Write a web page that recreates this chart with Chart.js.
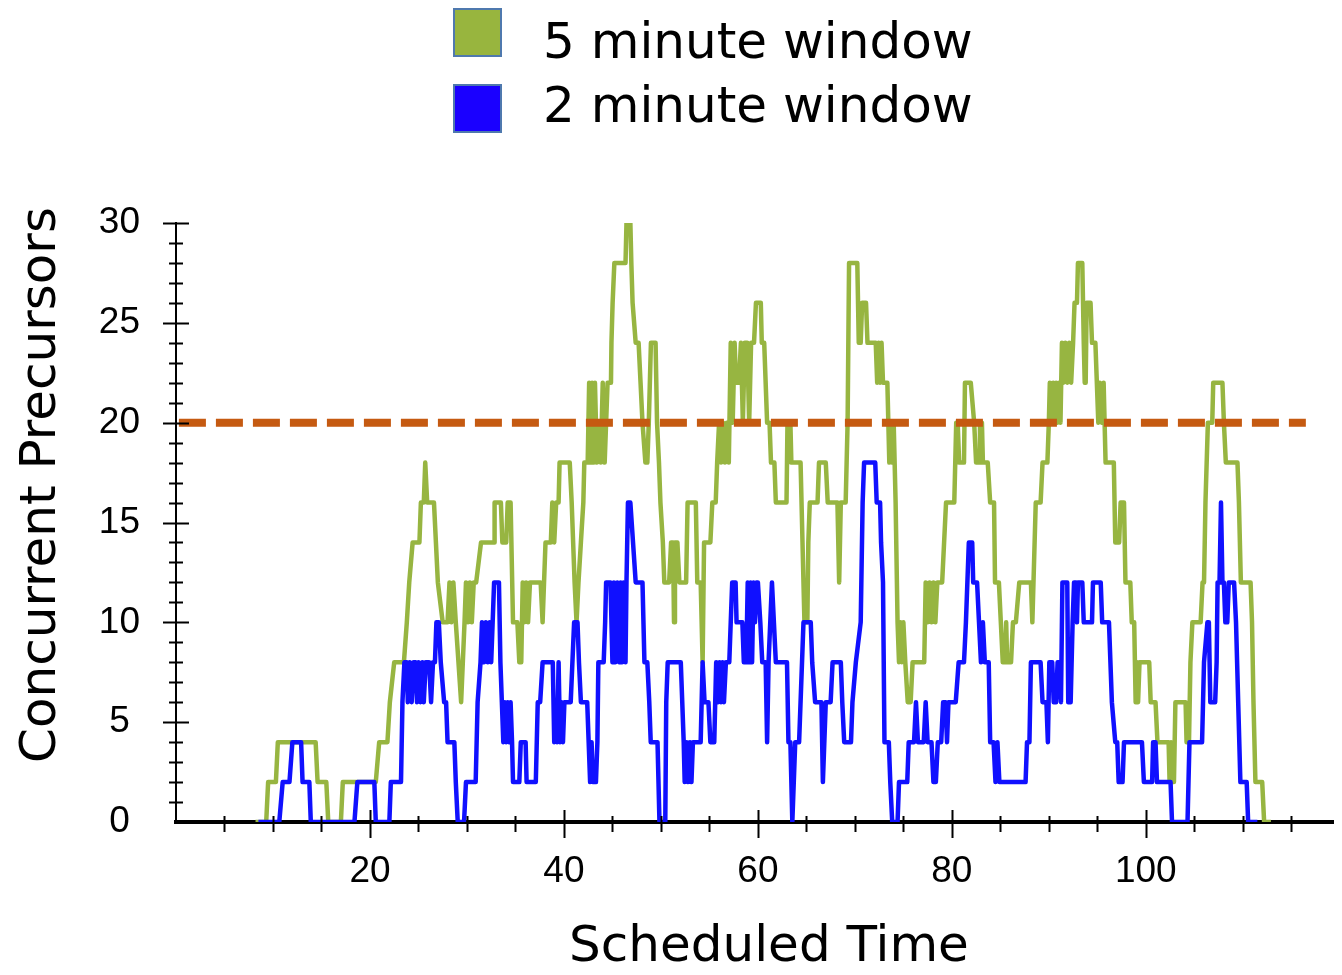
<!DOCTYPE html>
<html>
<head>
<meta charset="utf-8">
<title>Concurrent Precursors</title>
<script src="https://cdn.jsdelivr.net/npm/chart.js@4.4.1/dist/chart.umd.min.js"></script>
<style>
  html, body { margin: 0; padding: 0; background: #fff; }
  #wrap { position: relative; width: 1342px; height: 975px; overflow: hidden; }
  #chart { position: absolute; left: 0; top: 0; }
  .legend-box { position: absolute; left: 453px; width: 49px; height: 49px; box-sizing: border-box; border: 2px solid #4f79ae; }
  .legend-text { position: absolute; left: 543px; font: 50px/50px "DejaVu Sans", sans-serif; color: #000; white-space: nowrap; }
</style>
</head>
<body>
<div id="wrap">
  <canvas id="chart" width="1342" height="975"></canvas>
  <div id="legend"></div>
</div>
<script>
// [time, concurrent precursors]
const fiveMinuteWindow = [
  [8.2,0],[9.3,0],[9.5,2],[10.3,2],[10.5,4],[14.4,4],[14.6,2],[15.5,2],[15.7,0],[17.0,0],[17.2,2],[20.6,2],
  [20.95,4],[21.8,4],[22.05,6],[22.5,8],[23.5,8],[23.8,10],[24.05,12],[24.4,14],[25.1,14],[25.25,16],[25.55,16],
  [25.7,18],[25.9,16],[26.6,16],[26.8,14],[27.0,12],[27.5,10],[28.0,10],[28.2,12],[28.4,10],[28.6,12],[28.85,10],
  [29.4,6],[29.75,10],[29.9,12],[30.1,10],[30.3,12],[30.5,10],[30.7,12],[30.95,12],[31.45,14],[32.8,14],[32.85,16],
  [33.5,16],[33.65,14],[34.05,14],[34.2,16],[34.5,16],[34.75,10],[35.2,10],[35.4,8],[35.6,8],[35.75,12],[35.9,10],
  [36.1,12],[36.3,10],[36.5,12],[37.6,12],[37.8,10],[38.1,14],[38.65,14],[38.8,16],[39.0,14],[39.2,16],[39.45,16],
  [39.55,18],[40.6,18],[40.8,16],[40.95,14],[41.1,12],[41.3,10],[41.5,12],[41.75,14],[42.0,16],[42.1,18],[42.45,18],
  [42.6,22],[42.75,18],[42.9,22],[43.05,18],[43.2,22],[43.4,18],[43.6,20],[43.8,18],[44.0,22],[44.2,18],[44.35,20],
  [44.5,22],[44.85,22],[44.9,24],[45.02,26],[45.2,28],[46.35,28],[46.45,30],[46.85,30],[46.95,28],[47.08,26],
  [47.4,24],[47.7,24],[47.9,22],[48.1,20],[48.4,18],[48.6,18],[48.75,20],[48.97,24],[49.45,24],[49.6,20],[49.8,18],
  [49.95,16],[50.2,14],[50.35,12],[50.85,12],[51.05,14],[51.25,14],[51.35,10],[51.45,14],[51.7,14],[51.9,12],
  [52.6,12],[52.75,16],[53.6,16],[53.75,12],[54.1,12],[54.3,8],[54.45,14],[55.1,14],[55.3,16],[55.65,16],[55.8,18],
  [56.0,20],[56.2,18],[56.4,20],[56.6,18],[56.8,20],[57.0,18],[57.2,24],[57.4,20],[57.6,24],[57.75,22],[58.05,22],
  [58.25,24],[58.45,20],[58.65,24],[58.9,24],[59.1,20],[59.3,24],[59.6,24],[59.8,26],[60.3,26],[60.4,24],[60.65,24],
  [60.95,20],[61.2,20],[61.35,18],[61.7,18],[61.85,16],[62.95,16],[63.05,20],[63.35,20],[63.45,18],[64.4,18],
  [64.6,14],[64.8,10],[65.1,10],[65.2,14],[65.35,16],[66.15,16],[66.3,18],[67.0,18],[67.2,16],[68.2,16],[68.38,12],
  [68.55,16],[69.05,16],[69.15,18],[69.25,20],[69.4,28],[70.25,28],[70.4,24],[70.6,24],[70.75,26],[71.15,26],
  [71.3,24],[72.15,24],[72.3,22],[72.45,24],[72.6,22],[72.75,24],[72.9,22],[73.35,22],[73.55,18],[73.7,20],
  [73.85,18],[74.0,20],[74.2,16],[74.4,10],[74.55,8],[74.7,10],[74.85,8],[75.0,10],[75.2,8],[75.45,6],[75.75,6],
  [75.95,8],[77.15,8],[77.3,12],[77.5,10],[77.7,12],[77.9,10],[78.1,12],[78.3,10],[78.5,12],[79.0,12],[79.2,14],
  [79.4,16],[80.25,16],[80.45,20],[80.6,20],[80.75,18],[81.25,18],[81.35,22],[81.95,22],[82.3,20],[82.5,18],
  [82.8,18],[82.9,20],[83.0,18],[83.1,20],[83.2,18],[83.7,18],[83.95,16],[84.35,16],[84.45,12],[84.85,12],
  [85.05,10],[85.25,8],[85.5,8],[85.6,10],[85.7,8],[86.1,8],[86.3,10],[86.6,10],[86.95,12],[88.15,12],[88.3,10],
  [88.65,16],[89.15,16],[89.35,18],[89.85,18],[90.0,20],[90.1,22],[90.3,20],[90.45,22],[90.6,20],[90.75,22],
  [90.9,20],[91.05,22],[91.2,20],[91.35,24],[91.5,22],[91.7,24],[91.9,22],[92.1,24],[92.3,22],[92.5,24],[92.65,26],
  [92.9,26],[93.0,28],[93.45,28],[93.6,24],[93.7,22],[93.8,22],[93.9,26],[94.3,26],[94.45,24],[94.8,24],[94.95,22],
  [95.1,20],[95.25,22],[95.45,20],[95.65,22],[95.85,18],[96.7,18],[96.85,14],[97.25,14],[97.4,16],[97.75,16],
  [97.9,12],[98.4,12],[98.55,10],[98.8,10],[98.95,6],[99.1,8],[99.2,6],[99.35,8],[100.35,8],[100.5,6],[101.0,6],
  [101.2,4],[102.35,4],[102.45,2],[102.6,4],[102.75,2],[102.9,2],[103.05,6],[104.1,6],[104.2,4],[104.45,4],
  [104.6,8],[104.8,10],[105.65,10],[105.85,12],[106.0,12],[106.15,16],[106.4,20],[106.85,20],[106.95,22],[107.9,22],
  [108.05,20],[108.25,18],[109.45,18],[109.6,16],[109.8,12],[110.8,12],[110.95,10],[111.1,6],[111.3,2],[112.0,2],
  [112.2,0],[112.9,0]
];

const twoMinuteWindow = [
  [8.5,0],[10.65,0],[11.0,2],[11.7,2],[12.0,4],[12.9,4],[13.05,2],[13.75,2],[13.9,0],[18.4,0],[18.7,2],[20.45,2],
  [20.6,0],[22.0,0],[22.15,2],[23.2,2],[23.35,6],[23.55,8],[23.8,8],[23.9,6],[24.1,8],[24.3,6],[24.5,8],[24.7,8],
  [24.85,6],[25.0,8],[25.2,6],[25.4,8],[25.55,6],[25.75,8],[26.1,8],[26.3,6],[26.5,8],[26.7,8],[26.85,10],[27.1,10],
  [27.3,8],[27.65,6],[27.85,6],[28.0,4],[28.7,4],[28.85,2],[29.05,0],[29.7,0],[29.9,2],[30.9,2],[31.1,6],[31.4,8],
  [31.55,10],[31.75,8],[31.95,10],[32.15,8],[32.35,10],[32.5,8],[32.65,10],[32.8,12],[33.3,12],[33.45,8],[33.6,6],
  [33.75,4],[33.9,6],[34.05,4],[34.2,6],[34.35,4],[34.5,6],[34.65,4],[34.75,2],[35.4,2],[35.55,4],[36.05,4],
  [36.15,2],[37.1,2],[37.3,6],[37.55,6],[37.8,8],[38.85,8],[39.0,4],[39.15,6],[39.3,4],[39.45,8],[39.6,4],[39.75,6],
  [39.9,4],[40.05,6],[40.7,6],[41.05,10],[41.4,10],[41.55,8],[41.75,6],[42.4,6],[42.55,4],[42.7,2],[42.85,4],
  [43.0,2],[43.3,2],[43.45,4],[43.55,8],[44.1,8],[44.25,10],[44.35,12],[44.8,12],[45.0,8],[45.15,12],[45.3,8],
  [45.5,12],[45.7,8],[45.85,12],[46.0,8],[46.15,12],[46.35,8],[46.45,12],[46.6,16],[46.85,16],[47.4,12],[48.1,12],
  [48.3,8],[48.6,8],[48.8,6],[48.95,4],[49.65,4],[49.85,0],[50.45,0],[50.55,6],[50.7,8],[52.05,8],[52.2,6],
  [52.35,4],[52.45,2],[52.65,4],[52.8,2],[53.0,4],[53.15,2],[53.3,4],[54.1,4],[54.3,8],[54.5,6],[54.9,6],[55.1,4],
  [55.5,4],[55.7,8],[55.9,6],[56.05,8],[56.2,6],[56.35,8],[56.5,6],[56.7,8],[57.05,8],[57.35,12],[57.7,12],
  [57.8,10],[58.4,10],[58.55,8],[58.8,8],[58.95,12],[59.1,8],[59.25,12],[59.4,8],[59.55,12],[59.7,10],[59.85,12],
  [60.0,12],[60.25,10],[60.45,8],[60.8,8],[60.95,4],[61.1,8],[61.45,12],[61.65,10],[61.85,8],[63.0,8],[63.15,4],
  [63.35,4],[63.55,0],[63.85,4],[64.25,4],[64.7,10],[65.45,10],[65.6,8],[65.9,6],[66.55,6],[66.7,2],[66.85,4],
  [67.0,6],[67.5,6],[67.7,8],[68.55,8],[68.7,6],[68.9,4],[69.6,4],[69.75,6],[70.1,8],[70.6,10],[70.8,16],[70.95,18],
  [72.1,18],[72.25,16],[72.6,16],[72.7,14],[72.9,12],[73.05,4],[73.5,4],[73.65,2],[73.85,0],[74.4,0],[74.55,2],
  [75.4,2],[75.55,4],[76.1,4],[76.3,6],[76.5,4],[77.1,4],[77.3,6],[77.5,4],[77.9,4],[78.1,2],[78.35,2],[78.55,4],
  [78.9,4],[79.1,6],[79.35,6],[79.5,4],[79.65,6],[80.4,6],[80.7,8],[81.25,8],[81.45,10],[81.75,14],[82.1,14],
  [82.2,12],[82.6,12],[82.8,10],[83.0,8],[83.2,10],[83.4,8],[83.8,8],[83.95,4],[84.3,4],[84.5,2],[84.7,4],[84.9,2],
  [87.6,2],[87.75,4],[88.0,4],[88.15,8],[89.15,8],[89.35,6],[89.75,6],[89.9,4],[90.05,8],[90.35,8],[90.5,6],
  [90.75,6],[90.9,8],[91.05,8],[91.25,6],[91.4,12],[91.9,12],[92.0,6],[92.25,6],[92.45,10],[92.6,12],[92.8,12],
  [92.9,10],[93.0,12],[93.45,12],[93.6,10],[94.45,10],[94.55,12],[95.35,12],[95.5,10],[96.2,10],[96.5,6],[96.85,4],
  [97.05,4],[97.2,2],[97.6,2],[97.75,4],[99.6,4],[99.8,2],[100.65,2],[100.75,4],[101.0,4],[101.15,2],[102.55,2],
  [102.7,0],[104.3,0],[104.5,4],[105.8,4],[106.0,8],[106.35,10],[106.5,10],[106.65,6],[107.15,6],[107.3,8],
  [107.4,12],[107.6,12],[107.75,16],[107.9,12],[108.05,12],[108.2,10],[108.4,10],[108.55,12],[109.1,12],[109.3,10],
  [109.75,2],[110.4,2],[110.55,0],[111.5,0]
];

// dashed limit line
const limitLine = [[0.3, 20], [116.5, 20]];

const xTickLabels = [20, 40, 60, 80, 100];
const yTickLabels = [0, 5, 10, 15, 20, 25, 30];

const COLORS = {
    green: '#97b541',
    blue: '#1010ff',
    orange: '#c55a11',
    legendGreen: '#98b53e',
    legendBlue: '#1a00ff',
};

const TICK_FONT = { family: "'Liberation Sans', Arial, sans-serif", size: 37 };
const TITLE_FONT = '50px "DejaVu Sans", sans-serif';

const toPoints = pairs => pairs.map(([x, y]) => ({ x, y }));

// crossing tick marks and the two axis titles
const axisDecor = {
    id: 'axisDecor',
    afterDraw(chart) {
        const { ctx, chartArea, scales: { x, y } } = chart;
        ctx.save();
        ctx.strokeStyle = '#000';
        ctx.lineWidth = 2;
        ctx.beginPath();
        x.ticks.forEach(t => {
            if (t.value <= 0) return;
            const px = Math.round(x.getPixelForValue(t.value)) + 0.5;
            const major = xTickLabels.includes(t.value);
            ctx.moveTo(px, chartArea.bottom - (major ? 12 : 6));
            ctx.lineTo(px, chartArea.bottom + (major ? 16 : 10));
        });
        y.ticks.forEach(t => {
            if (t.value <= 0) return;
            const py = Math.round(y.getPixelForValue(t.value)) + 0.5;
            const len = yTickLabels.includes(t.value) ? 13 : 7;
            ctx.moveTo(chartArea.left - len, py);
            ctx.lineTo(chartArea.left + len, py);
        });
        ctx.stroke();

        ctx.fillStyle = '#000';
        ctx.font = TITLE_FONT;
        ctx.textAlign = 'center';
        ctx.textBaseline = 'middle';
        ctx.fillText('Scheduled Time', 769, 948);
        ctx.translate(42, 485);
        ctx.rotate(-Math.PI / 2);
        ctx.fillText('Concurrent Precursors', 0, 0);
        ctx.restore();
    },
};

const chart = new Chart(document.getElementById('chart'), {
    type: 'line',
    data: {
        datasets: [
            {
                label: '5 minute window',
                data: toPoints(fiveMinuteWindow),
                borderColor: COLORS.green,
                backgroundColor: COLORS.legendGreen,
                borderWidth: 4.5,
                pointRadius: 0,
                order: 3,
            },
            {
                label: '2 minute window',
                data: toPoints(twoMinuteWindow),
                borderColor: COLORS.blue,
                backgroundColor: COLORS.legendBlue,
                borderWidth: 4.5,
                pointRadius: 0,
                order: 2,
            },
            {
                label: 'limit',
                data: toPoints(limitLine),
                borderColor: COLORS.orange,
                borderWidth: 8,
                borderDash: [27, 10],
                pointRadius: 0,
                order: 1,
            },
        ],
    },
    options: {
        responsive: false,
        animation: false,
        events: [],
        layout: { padding: { top: 223, right: 9, bottom: 0, left: 0 } },
        elements: { line: { tension: 0, borderJoinStyle: 'round' } },
        plugins: {
            legend: { display: false },
            tooltip: { enabled: false },
        },
        scales: {
            x: {
                type: 'linear',
                min: 0,
                max: 119.3,
                z: 1,
                grid: { display: false, drawTicks: false },
                border: { display: true, color: '#000', width: 4 },
                ticks: {
                    stepSize: 5,
                    autoSkip: false,
                    includeBounds: false,
                    maxRotation: 0,
                    padding: 28,
                    color: '#000',
                    font: TICK_FONT,
                    callback: v => (xTickLabels.includes(v) ? String(v) : ''),
                },
                afterFit: s => { s.height = 153; },
            },
            y: {
                min: 0,
                max: 30,
                z: 1,
                grid: { display: false, drawTicks: false },
                border: { display: true, color: '#000', width: 2 },
                ticks: {
                    stepSize: 1,
                    autoSkip: false,
                    padding: 36,
                    crossAlign: 'center',
                    color: '#000',
                    font: TICK_FONT,
                    callback: v => (yTickLabels.includes(v) ? String(v) : ''),
                },
                afterFit: s => { s.width = 176; },
            },
        },
    },
    plugins: [axisDecor],
});

// legend stacked above the plot, built from the first two datasets
const legend = document.getElementById('legend');
chart.data.datasets.slice(0, 2).forEach((ds, i) => {
    const box = document.createElement('div');
    box.className = 'legend-box';
    box.style.top = (8 + i * 76) + 'px';
    box.style.background = ds.backgroundColor;
    const text = document.createElement('div');
    text.className = 'legend-text';
    text.style.top = (16 + i * 64) + 'px';
    text.textContent = ds.label;
    legend.appendChild(box);
    legend.appendChild(text);
});
</script>
</body>
</html>
